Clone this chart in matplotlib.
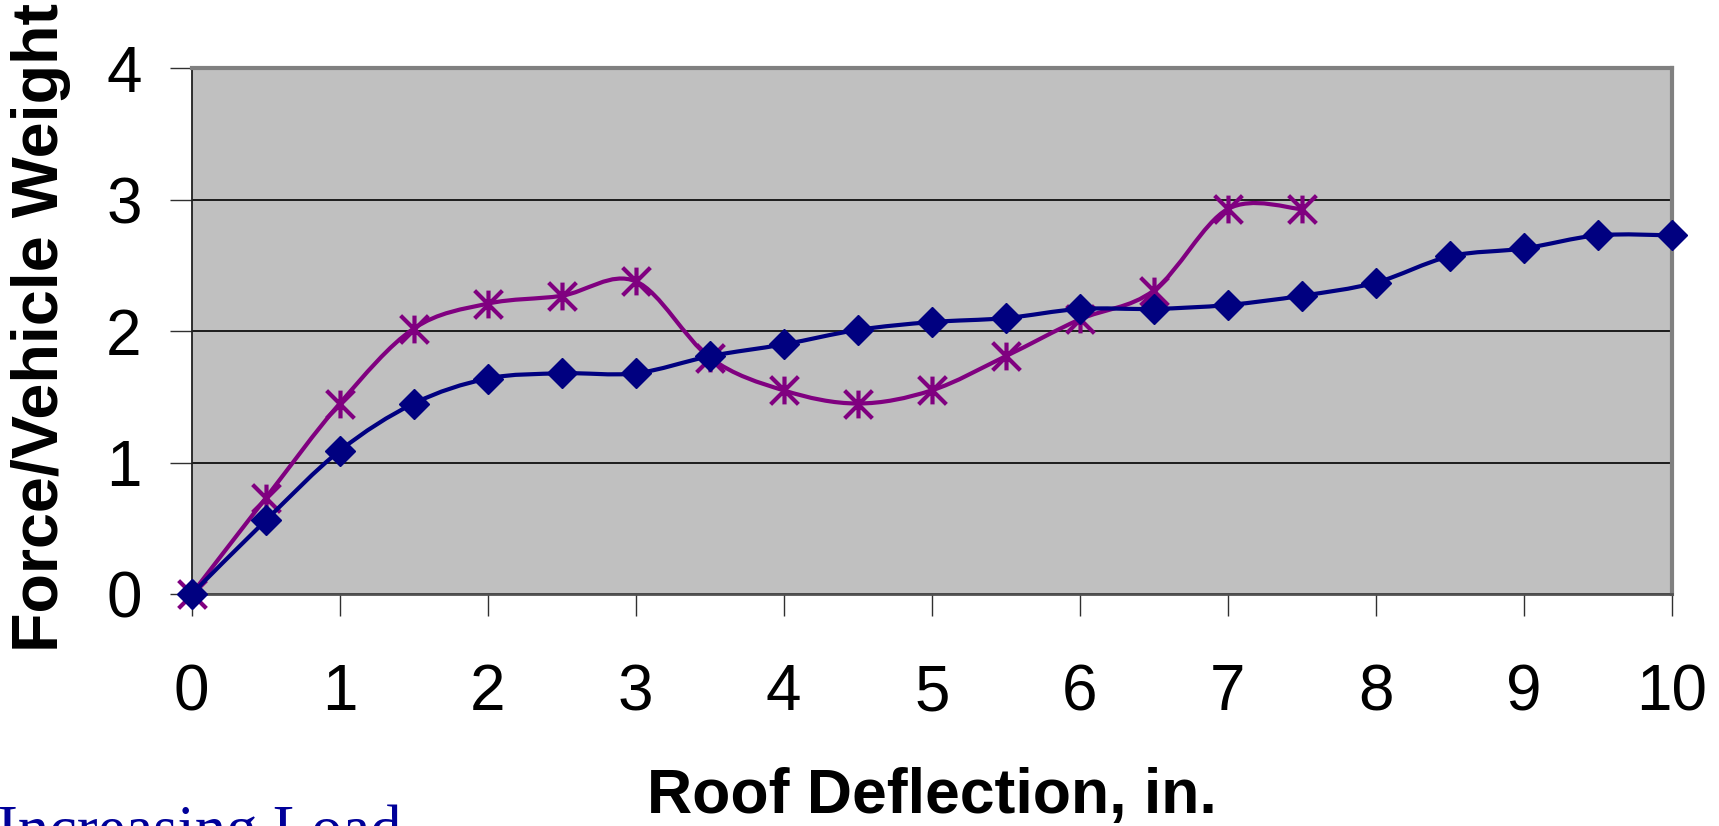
import numpy as np
import matplotlib
matplotlib.use("Agg")
import matplotlib.pyplot as plt
from matplotlib.path import Path
from matplotlib.patches import PathPatch

plt.rcParams['font.family'] = ['Liberation Sans', 'DejaVu Sans']

# ---- data ----
deflection_a = [0, 0.5, 1, 1.5, 2, 2.5, 3, 3.5, 4, 4.5, 5, 5.5, 6, 6.5, 7, 7.5, 8, 8.5, 9, 9.5, 10]
force_a = [0, 0.56, 1.09, 1.45, 1.64, 1.68, 1.68, 1.81, 1.90, 2.01, 2.07, 2.10, 2.17, 2.17, 2.20, 2.27, 2.37, 2.57, 2.63, 2.73, 2.73]

deflection_b = [0, 0.5, 1, 1.5, 2, 2.5, 3, 3.5, 4, 4.5, 5, 5.5, 6, 6.5, 7, 7.5]
force_b = [0, 0.73, 1.45, 2.02, 2.21, 2.27, 2.38, 1.80, 1.55, 1.45, 1.55, 1.81, 2.09, 2.31, 2.93, 2.93]

x_ticks = [0, 1, 2, 3, 4, 5, 6, 7, 8, 9, 10]
y_ticks = [0, 1, 2, 3, 4]

x_label = "Roof Deflection, in."
y_label = "Force/Vehicle Weight"
note_text = "Increasing Load"

BLUE = "#000080"
PURPLE = "#800080"


def smooth_path(xs, ys):
    pts = np.column_stack([xs, ys]).astype(float)
    n = len(pts)
    verts = [pts[0]]
    codes = [Path.MOVETO]
    for i in range(n - 1):
        p0 = pts[i - 1] if i > 0 else pts[i]
        p1 = pts[i]
        p2 = pts[i + 1]
        p3 = pts[i + 2] if i + 2 < n else pts[i + 1]
        c1 = p1 + (p2 - p0) / 6.0
        c2 = p2 - (p3 - p1) / 6.0
        verts += [c1, c2, p2]
        codes += [Path.CURVE4] * 3
    return Path(verts, codes)


star = Path([(0, -1), (0, 1), (-1, -1), (1, 1), (-1, 1), (1, -1)],
            [Path.MOVETO, Path.LINETO] * 3)

W, H = 1719, 826
fig = plt.figure(figsize=(W / 100, H / 100), dpi=100)
left, right, top, bottom = 191.7, 1671.7, 68.5, 594
ax = fig.add_axes([left / W, 1 - bottom / H, (right - left) / W, (bottom - top) / H])
ax.set_facecolor("#C0C0C0")
ax.set_xlim(0, 10)
ax.set_ylim(0, 4)
ax.set_xticks(x_ticks)
ax.set_yticks(y_ticks)
ax.set_axisbelow(True)
ax.yaxis.grid(True, color="black", lw=1.2)

# purple series
ax.add_patch(PathPatch(smooth_path(deflection_b, force_b), fill=False,
                       edgecolor=PURPLE, lw=3.0, zorder=3, clip_on=False,
                       capstyle="round", joinstyle="round"))
ax.plot(deflection_b, force_b, linestyle="none", marker=star, ms=20, mew=3.0,
        mec=PURPLE, mfc="none", zorder=4, clip_on=False)

# blue series
ax.add_patch(PathPatch(smooth_path(deflection_a, force_a), fill=False,
                       edgecolor=BLUE, lw=3.0, zorder=5, clip_on=False,
                       capstyle="round", joinstyle="round"))
ax.plot(deflection_a, force_a, linestyle="none", marker="D", ms=15.5, mew=1,
        mec=BLUE, mfc=BLUE, zorder=6, clip_on=False)

for s in ("top", "right"):
    ax.spines[s].set_color("#808080")
    ax.spines[s].set_linewidth(3)
ax.spines["left"].set_color("#202020")
ax.spines["left"].set_linewidth(1.3)
ax.spines["bottom"].set_color("#505050")
ax.spines["bottom"].set_linewidth(2)

ax.tick_params(axis="both", direction="out", length=16, width=1.0, color="#303030",
               labelsize=46)
ax.tick_params(axis="x", pad=34)
ax.tick_params(axis="y", pad=20)

fig.text(58 / W, 0.603, y_label, rotation=90, rotation_mode="anchor",
         ha="center", va="baseline", fontsize=46.5, fontweight="bold")
fig.text(931.7 / W, 0.016, x_label, ha="center", va="baseline",
         fontsize=45, fontweight="bold")
fig.text(-0.002, -0.0278, note_text, ha="left", va="baseline", fontsize=45,
         color="#000099", family=["Liberation Serif", "DejaVu Serif"])

fig.savefig("out.png", dpi=100)
